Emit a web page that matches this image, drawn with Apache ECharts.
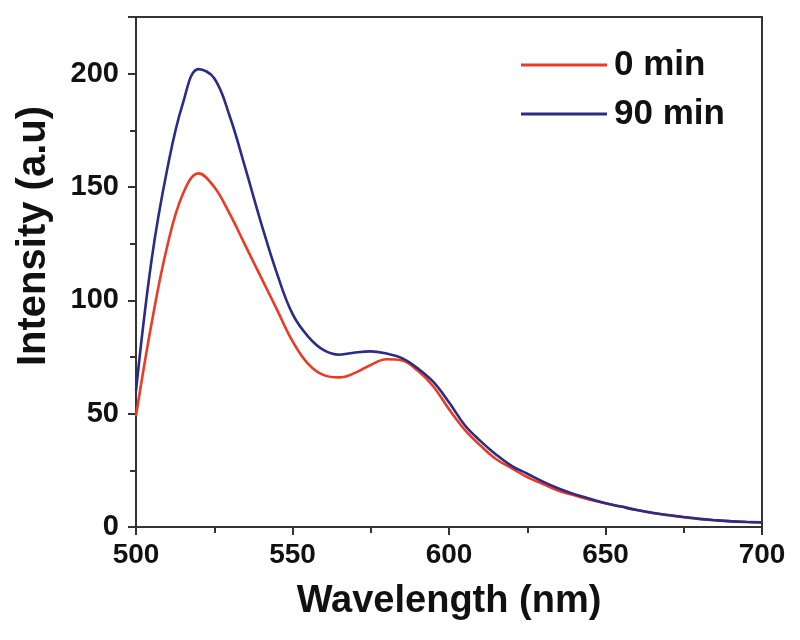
<!DOCTYPE html>
<html>
<head>
<meta charset="utf-8">
<script src="https://cdn.jsdelivr.net/npm/echarts@6/dist/echarts.min.js"></script>
<style>html,body{margin:0;padding:0;background:#fff;}#c{width:800px;height:640px;}</style>
</head>
<body>
<div id="c"></div>
<script>
const wavelengths = [500,505,510,515,520,525,530,535,540,545,550,555,560,565,570,575,580,585,590,595,600,605,610,615,620,625,630,635,640,645,650,655,660,665,670,675,680,685,690,695,700];
const series0min = [49,90,124,147,156,150,138,124,110,96,82,72,67,66,68,71.5,74,73.5,69,62,52,43,36,30,26,22,19,16,14,12,10.5,9,7.5,6.2,5.2,4.3,3.5,3,2.6,2.3,2.1];
const series90min = [60,118,158,187,202,198,181,158,134,112,94,84,78,76,77,77.5,76.5,74.5,70,64,55,45,38,32,27,23.5,20,17,14.5,12.5,10.5,9,7.5,6.3,5.3,4.4,3.6,3,2.5,2.2,2];
const seriesNames = ['0 min','90 min'];
const xTicks = [500,550,600,650,700];
const yTicks = [0,50,100,150,200];

const pair = (arr) => wavelengths.map((w,i)=>[w,arr[i]]);
const FONT = '"Liberation Sans", Arial, sans-serif';
const chart = echarts.init(document.getElementById('c'), null, {renderer:'canvas'});
chart.setOption({
  animation:false,
  backgroundColor:'#fff',
  grid:{left:136,right:38,top:17,bottom:113,show:true,borderColor:'#333',borderWidth:2,backgroundColor:'transparent'},
  legend:{
    orient:'vertical', left:516, top:41, itemWidth:86, itemHeight:3, itemGap:11,
    icon:'rect',
    textStyle:{fontFamily:FONT,fontWeight:'bold',fontSize:35,color:'#111',lineHeight:38,padding:[0,0,0,2]},
    data:seriesNames
  },
  xAxis:{
    type:'value', min:500, max:700, interval:50,
    name:'Wavelength (nm)', nameLocation:'middle', nameGap:56,
    nameTextStyle:{fontFamily:FONT,fontWeight:'bold',fontSize:38,color:'#111'},
    axisLine:{show:true,lineStyle:{color:'#333',width:2}},
    axisTick:{show:true,inside:false,length:8,lineStyle:{color:'#333',width:2}},
    minorTick:{show:true,splitNumber:2,length:6,lineStyle:{color:'#333',width:2}},
    axisLabel:{fontFamily:FONT,fontWeight:'bold',fontSize:28,color:'#111',margin:14,
      formatter:(v)=>xTicks.includes(v)?String(v):''},
    splitLine:{show:false}
  },
  yAxis:{
    type:'value', min:0, max:225, interval:50,
    name:'Intensity (a.u)', nameLocation:'middle', nameGap:82, nameRotate:90,
    nameTextStyle:{fontFamily:FONT,fontWeight:'bold',fontSize:40,color:'#111',padding:[0,0,0,72]},
    axisLine:{show:true,lineStyle:{color:'#333',width:2}},
    axisTick:{show:true,inside:false,length:8,lineStyle:{color:'#333',width:2}},
    minorTick:{show:true,splitNumber:2,length:6,lineStyle:{color:'#333',width:2}},
    axisLabel:{fontFamily:FONT,fontWeight:'bold',fontSize:29,color:'#111',margin:17,
      formatter:(v)=>yTicks.includes(v)?String(v):''},
    splitLine:{show:false}
  },
  series:[
    {name:seriesNames[0],type:'line',data:pair(series0min),smooth:0.4,showSymbol:false,
     lineStyle:{color:'#ec3a24',width:2.6},itemStyle:{color:'#ec3a24'}},
    {name:seriesNames[1],type:'line',data:pair(series90min),smooth:0.4,showSymbol:false,
     lineStyle:{color:'#2b2c86',width:2.6},itemStyle:{color:'#2b2c86'}}
  ]
});
</script>
</body>
</html>
